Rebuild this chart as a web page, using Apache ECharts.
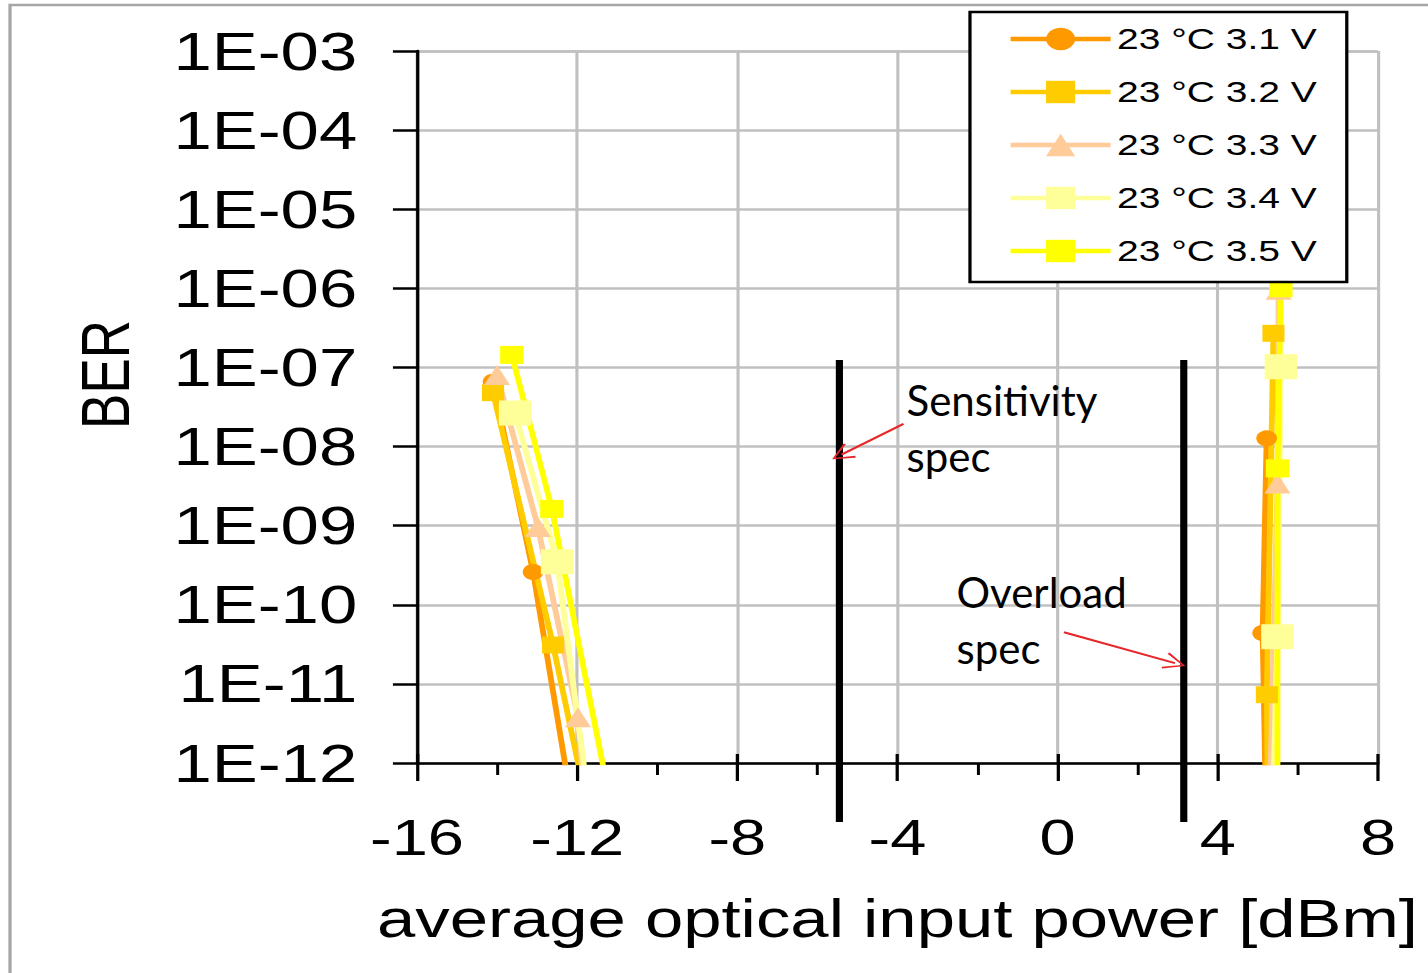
<!DOCTYPE html>
<html>
<head>
<meta charset="utf-8">
<title>BER vs optical input power</title>
<script src="https://cdn.jsdelivr.net/npm/echarts@6/dist/echarts.min.js"></script>
<style>
  html, body { margin: 0; padding: 0; background: #fff; overflow: hidden; }
  /* the original picture is stretched sideways, so the chart is too */
  #chart { width: 1099px; height: 973px; transform: scaleX(1.29936); transform-origin: 0 0; }
</style>
</head>
<body>
<div id="chart"></div>
<script>
// ---- data ----
var seriesNames = ['23 °C 3.1 V', '23 °C 3.2 V', '23 °C 3.3 V', '23 °C 3.4 V', '23 °C 3.5 V'];

// [power dBm, BER]; points below 1E-12 are error free and fall under the axis
var ber31 = [[-14.1, 6.6e-8], [-13.1, 2.6e-10], [-12.14, 3.2e-13], [5.2, 3.2e-13], [5.12, 4.4e-11], [5.22, 1.27e-8]];
var ber32 = [[-14.1, 4.8e-8], [-12.6, 3.1e-11], [-11.77, 3.2e-13], [5.25, 3.2e-13], [5.225, 7.3e-12], [5.39, 2.7e-7]];
var ber33 = [[-14.0, 8.0e-8], [-12.98, 9.6e-10], [-11.98, 3.8e-12], [-11.8, 3.2e-13], [5.3, 3.2e-13], [5.49, 3.4e-9], [5.52, 9.6e-7]];
var ber34 = [[-13.55, 2.66e-8], [-12.5, 3.5e-10], [-11.71, 3.2e-13], [5.38, 3.2e-13], [5.49, 3.95e-11], [5.575, 1.02e-7]];
var ber35 = [[-13.63, 1.44e-7], [-12.63, 1.63e-9], [-11.17, 3.2e-13], [5.49, 3.2e-13], [5.49, 5.3e-9], [5.575, 1.0e-6]];
var berData = [ber31, ber32, ber33, ber34, ber35];

var specX = [-5.45, 3.15];          // sensitivity / overload spec lines
var specBer = [1.24e-7, 1.8e-13];   // top and bottom of those lines

var noteTexts = ['Sensitivity\nspec', 'Overload\nspec'];
var notePos = [[-3.775, 8.8e-8], [-2.525, 3.3e-10]];
var arrowCoords = [
  [[-3.85, 1.93e-8], [-5.4, 7.9e-9]],
  [[0.158, 4.49e-11], [2.93, 1.83e-11]]
];

// ---- styles ----
var stretch = 1428 / 1099;
var colors = ['#FF9900', '#FFCC00', '#FFCC99', '#FFFF99', '#FFFF00'];
var symbols = ['circle', 'rect', 'triangle', 'rect', 'rect'];
var symbolSizes = [16, 17, 20, 25, 18];
var axisFont = 'Liberation Sans';

var chart = echarts.init(document.getElementById('chart'), null, { renderer: 'svg' });

var series = seriesNames.map(function (name, i) {
  return {
    name: name,
    type: 'line',
    data: berData[i],
    symbol: symbols[i],
    symbolSize: symbolSizes[i],
    itemStyle: { color: colors[i] },
    lineStyle: { color: colors[i], width: 4.5 },
    clip: true
  };
});

specX.forEach(function (x, i) {
  series.push({
    name: 'spec' + i,
    type: 'line',
    data: [[x, specBer[0]], [x, specBer[1]]],
    showSymbol: false,
    clip: false,
    lineStyle: { color: '#000', width: 5.5 },
    z: 3
  });
});

series.push({
  name: 'arrows',
  type: 'lines',
  coordinateSystem: 'cartesian2d',
  data: arrowCoords.map(function (c) { return { coords: c }; }),
  symbol: ['none', 'path://M0,10 L5,0 L10,10 L9,10.6 L5,1.8 L1,10.6 Z'],
  symbolSize: [19, 17],
  lineStyle: { color: '#E8262A', width: 2, opacity: 1 },
  itemStyle: { color: '#E8262A' },
  z: 4
});

var option = {
  animation: false,
  backgroundColor: '#fff',
  grid: { left: 320.9, right: 38.5, top: 51, bottom: 210 },
  legend: {
    data: seriesNames,
    left: 746.5,
    top: 12,
    orient: 'vertical',
    selectedMode: false,
    backgroundColor: '#fff',
    borderColor: '#000',
    borderWidth: 2.5,
    padding: [12, 23, 16, 29],
    itemWidth: 77,
    itemHeight: 28,
    itemGap: 23,
    lineStyle: { width: 4.5 },
    textStyle: { fontFamily: axisFont, fontSize: 30, lineHeight: 30, color: '#000' }
  },
  xAxis: [{
    type: 'value',
    min: -16,
    max: 8,
    interval: 4,
    axisLine: { onZero: false, lineStyle: { color: '#000', width: 2.5 } },
    axisTick: { length: 18, lineStyle: { color: '#000', width: 2.5 } },
    minorTick: { show: true, splitNumber: 2, length: 12, lineStyle: { color: '#000', width: 2.3 } },
    splitLine: { show: true, lineStyle: { color: '#C0C0C0', width: 2.4 } },
    axisLabel: { fontFamily: axisFont, fontSize: 50, color: '#000', margin: 50 },
    name: 'average optical input power [dBm]',
    nameLocation: 'middle',
    nameGap: 129,
    nameMoveOverlap: false,
    nameTextStyle: { fontFamily: axisFont, fontSize: 53, color: '#000' }
  }, {
    // only the short part of the major ticks above the axis line
    type: 'value',
    min: -16,
    max: 8,
    interval: 4,
    position: 'bottom',
    axisLine: { show: false, onZero: false },
    axisTick: { inside: true, length: 9, lineStyle: { color: '#000', width: 2.5 } },
    axisLabel: { show: false },
    splitLine: { show: false }
  }],
  yAxis: {
    type: 'log',
    logBase: 10,
    min: 1e-12,
    max: 1e-3,
    splitNumber: 9,
    axisLine: { show: true, onZero: false, lineStyle: { color: '#000', width: 2.5 } },
    axisTick: { show: true, length: 18.5, lineStyle: { color: '#000', width: 2.5 } },
    splitLine: { show: true, lineStyle: { color: '#C0C0C0', width: 2.6 } },
    axisLabel: {
      fontFamily: axisFont, fontSize: 53, color: '#000', margin: 46,
      formatter: function (v) {
        var e = -Math.round(Math.log10(v));
        return '1E-' + (e < 10 ? '0' : '') + e;
      }
    },
    name: 'BER',
    nameLocation: 'middle',
    nameGap: 214,
    nameMoveOverlap: false,
    nameTextStyle: { fontFamily: axisFont, fontSize: 53, color: '#000', padding: [0, 0, 0, 65] }
  },
  series: series
};

chart.setOption(option);

// annotation texts: placed from data coords, squeezed back so they are not stretched
var graphics = [{
  type: 'rect',
  shape: { x: 7.7, y: 5, width: 1300, height: 1100 },
  style: { fill: 'none', stroke: '#A6A6A6', lineWidth: 2.5 },
  silent: true
}];
noteTexts.forEach(function (t, i) {
  var p = chart.convertToPixel({ gridIndex: 0 }, notePos[i]);
  graphics.push({
    type: 'text',
    x: p[0],
    y: p[1],
    scaleX: 1 / stretch,
    z: 10,
    style: { text: t, fontFamily: 'Lato', fontSize: 42, lineHeight: 56, fill: '#000', align: 'left', verticalAlign: 'top' }
  });
});
chart.setOption({ graphic: graphics });
</script>
</body>
</html>
